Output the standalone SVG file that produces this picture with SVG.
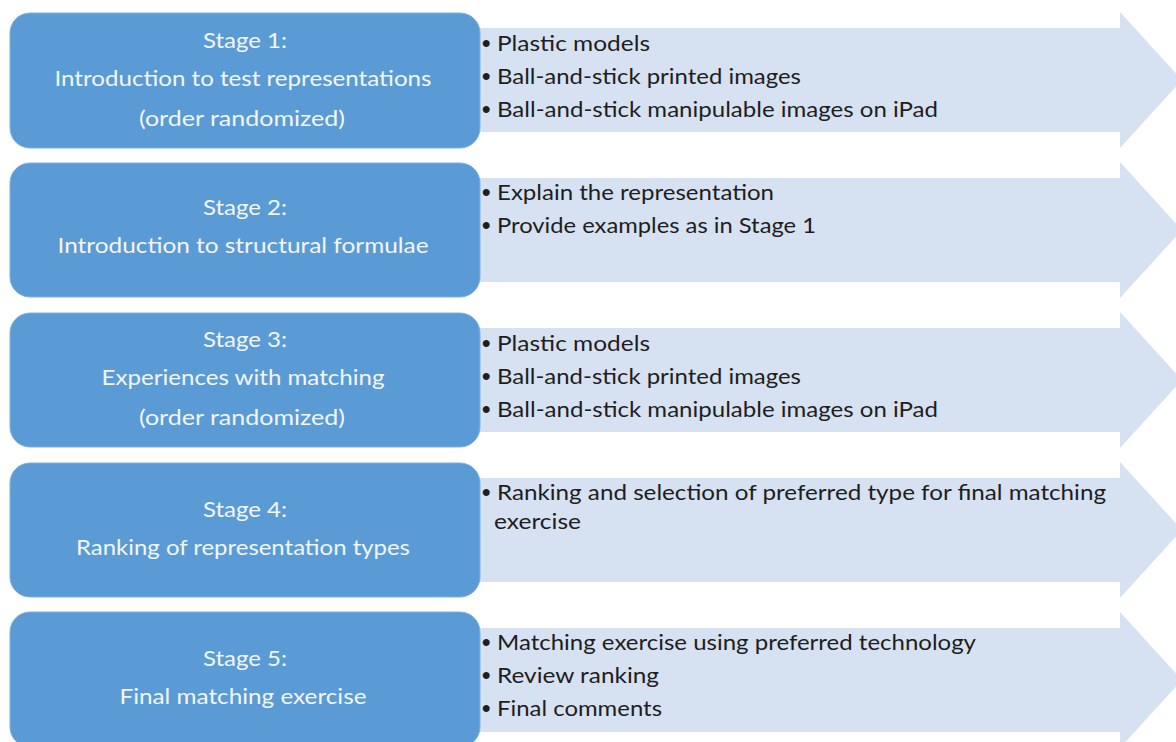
<svg xmlns="http://www.w3.org/2000/svg" width="1176" height="742" viewBox="0 0 1176 742">
<defs>
<style>
.arrow{fill:#D6E1F1;}
.box{fill:#5B9BD5;stroke:#7FB0DE;stroke-width:1;}
.bt{font-family:Lato,"Liberation Sans",sans-serif;font-size:21px;fill:#F2F6FB;text-anchor:middle;}
.it{font-family:Lato,"Liberation Sans",sans-serif;font-size:21px;fill:#1E1E1E;}
.bu{font-family:"Liberation Sans",sans-serif;font-size:24px;font-weight:bold;fill:#1E1E1E;}
</style>
<path id="arr" d="M0,16 L650,16 L650,0 L712,68 L650,136 L650,120 L0,120 Z"/>
</defs>
<g id="connectors">
<use href="#arr" class="arrow" x="470" y="12"/>
<use href="#arr" class="arrow" x="470" y="162"/>
<use href="#arr" class="arrow" x="470" y="312"/>
<use href="#arr" class="arrow" x="470" y="462"/>
<use href="#arr" class="arrow" x="470" y="612"/>
</g>
<g id="stage1">
<rect class="box" x="10" y="13" width="470" height="135" rx="20"/>
<text class="bt" x="245" y="48" textLength="84" lengthAdjust="spacingAndGlyphs">Stage 1:</text>
<text class="bt" x="243" y="86" textLength="377" lengthAdjust="spacingAndGlyphs">Introduction to test representations</text>
<text class="bt" x="242" y="126" textLength="206" lengthAdjust="spacingAndGlyphs">(order randomized)</text>
<text class="bu" x="482" y="51">•</text>
<text class="it" x="497" y="51" textLength="153" lengthAdjust="spacingAndGlyphs">Plastic models</text>
<text class="bu" x="482" y="84">•</text>
<text class="it" x="497" y="84" textLength="304" lengthAdjust="spacingAndGlyphs">Ball-and-stick printed images</text>
<text class="bu" x="482" y="117">•</text>
<text class="it" x="497" y="117" textLength="441" lengthAdjust="spacingAndGlyphs">Ball-and-stick manipulable images on iPad</text>
</g>
<g id="stage2">
<rect class="box" x="10" y="163" width="470" height="134" rx="20"/>
<text class="bt" x="245" y="215" textLength="84" lengthAdjust="spacingAndGlyphs">Stage 2:</text>
<text class="bt" x="243" y="253" textLength="371" lengthAdjust="spacingAndGlyphs">Introduction to structural formulae</text>
<text class="bu" x="482" y="200">•</text>
<text class="it" x="497" y="200" textLength="277" lengthAdjust="spacingAndGlyphs">Explain the representation</text>
<text class="bu" x="482" y="233">•</text>
<text class="it" x="497" y="233" textLength="319" lengthAdjust="spacingAndGlyphs">Provide examples as in Stage 1</text>
</g>
<g id="stage3">
<rect class="box" x="10" y="313" width="470" height="134" rx="20"/>
<text class="bt" x="245" y="347" textLength="84" lengthAdjust="spacingAndGlyphs">Stage 3:</text>
<text class="bt" x="243" y="385" textLength="283" lengthAdjust="spacingAndGlyphs">Experiences with matching</text>
<text class="bt" x="242" y="425" textLength="206" lengthAdjust="spacingAndGlyphs">(order randomized)</text>
<text class="bu" x="482" y="351">•</text>
<text class="it" x="497" y="351" textLength="153" lengthAdjust="spacingAndGlyphs">Plastic models</text>
<text class="bu" x="482" y="384">•</text>
<text class="it" x="497" y="384" textLength="304" lengthAdjust="spacingAndGlyphs">Ball-and-stick printed images</text>
<text class="bu" x="482" y="417">•</text>
<text class="it" x="497" y="417" textLength="441" lengthAdjust="spacingAndGlyphs">Ball-and-stick manipulable images on iPad</text>
</g>
<g id="stage4">
<rect class="box" x="10" y="463" width="470" height="134" rx="20"/>
<text class="bt" x="245" y="517" textLength="84" lengthAdjust="spacingAndGlyphs">Stage 4:</text>
<text class="bt" x="243" y="555" textLength="334" lengthAdjust="spacingAndGlyphs">Ranking of representation types</text>
<text class="bu" x="482" y="500">•</text>
<text class="it" x="497" y="500" textLength="609" lengthAdjust="spacingAndGlyphs">Ranking and selection of preferred type for final matching</text>
<text class="it" x="494" y="529" textLength="87" lengthAdjust="spacingAndGlyphs">exercise</text>
</g>
<g id="stage5">
<rect class="box" x="10" y="612" width="470" height="135" rx="20"/>
<text class="bt" x="245" y="666" textLength="84" lengthAdjust="spacingAndGlyphs">Stage 5:</text>
<text class="bt" x="243" y="704" textLength="247" lengthAdjust="spacingAndGlyphs">Final matching exercise</text>
<text class="bu" x="482" y="650">•</text>
<text class="it" x="497" y="650" textLength="479" lengthAdjust="spacingAndGlyphs">Matching exercise using preferred technology</text>
<text class="bu" x="482" y="683">•</text>
<text class="it" x="497" y="683" textLength="162" lengthAdjust="spacingAndGlyphs">Review ranking</text>
<text class="bu" x="482" y="716">•</text>
<text class="it" x="497" y="716" textLength="165" lengthAdjust="spacingAndGlyphs">Final comments</text>
</g>
</svg>
